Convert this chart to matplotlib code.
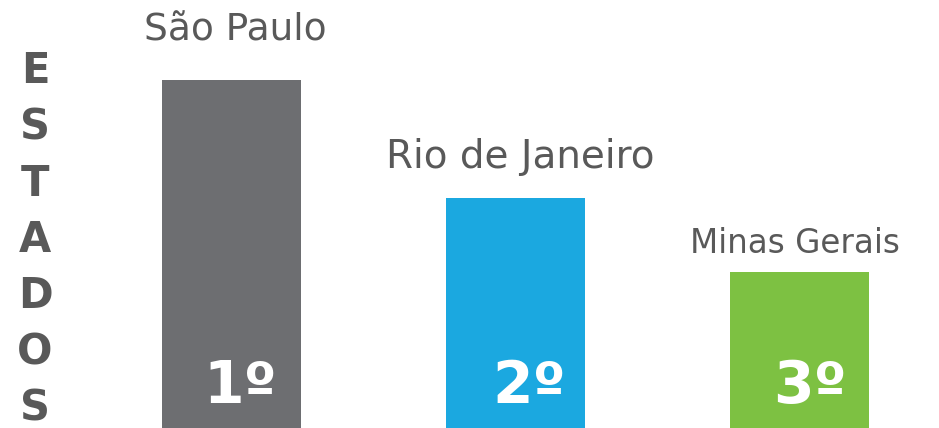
import matplotlib.pyplot as plt

states = ['São Paulo', 'Rio de Janeiro', 'Minas Gerais']
ranks = ['1º', '2º', '3º']
heights = [348, 230, 156]
colors = ['#6d6e71', '#1ba8e0', '#7dc142']
side_title = 'ESTADOS'

plt.rcParams['font.family'] = ['DejaVu Sans']
gray = '#595959'

fig = plt.figure(figsize=(9.39, 4.28), dpi=100)
ax = fig.add_axes([0, 0, 1, 1])
x = range(len(states))
bars = ax.bar(x, heights, width=0.487, color=colors)
ax.set_xlim(-231.5 / 284, (939 - 231.5) / 284)
ax.set_ylim(0, 428)
ax.axis('off')

# per-label size, gap above bar (pixels) and horizontal nudge
label_sizes = [27, 28, 23.5]
label_gaps = [40, 30, 19]
label_shift = [0.015, 0.015, -0.017]
rank_shift = [0.03, 0.048, 0.035]
for i, (b, name, rank) in enumerate(zip(bars, states, ranks)):
    cx = b.get_x() + b.get_width() / 2
    ax.text(cx + label_shift[i], b.get_height() + label_gaps[i], name,
            ha='center', va='baseline', fontsize=label_sizes[i], color=gray)
    ax.text(cx + rank_shift[i], 25, rank, ha='center', va='baseline',
            fontsize=42, fontweight='bold', color='white')

# vertical title, one letter per line
for k, ch in enumerate(side_title):
    fig.text(35 / 939, 1 - (71 + k * 56.3) / 428, ch, ha='center', va='center',
             fontsize=30, fontweight='bold', color=gray)

fig.savefig('out.png', dpi=100)
